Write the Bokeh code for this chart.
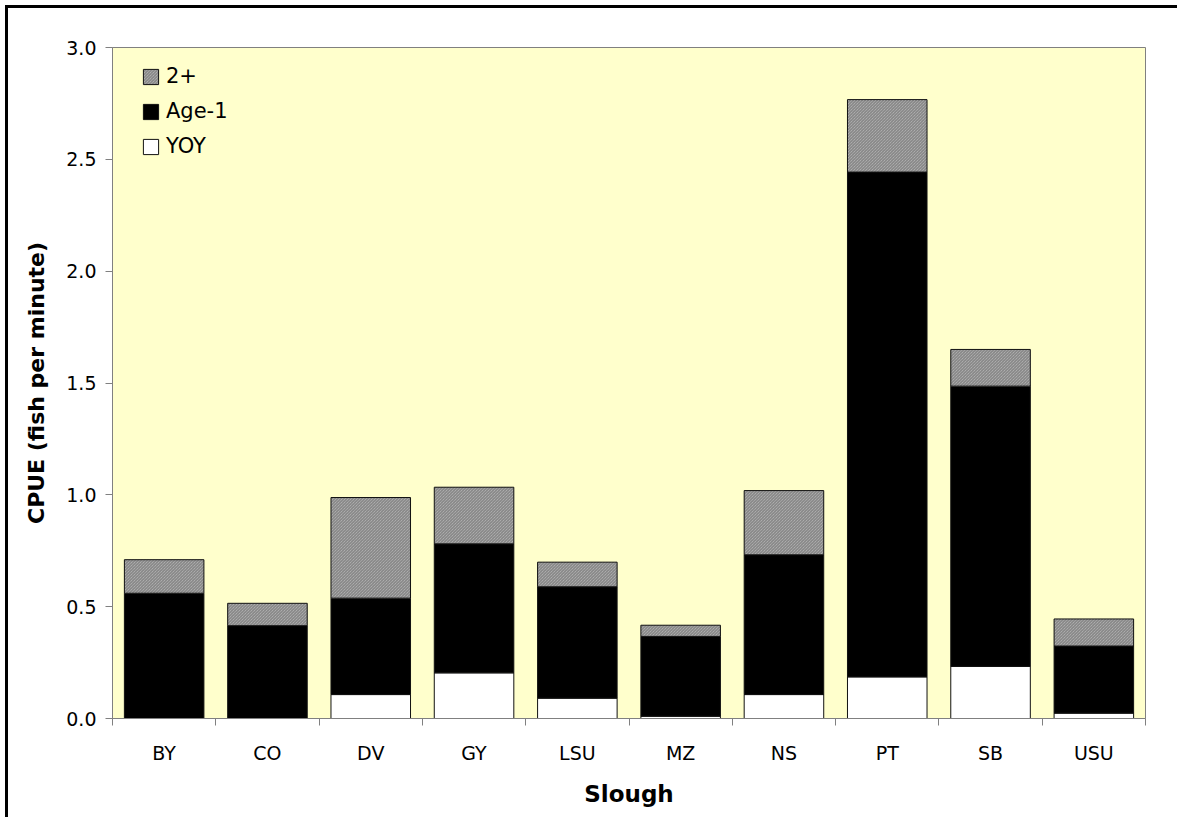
from bokeh.plotting import figure
from bokeh.models import (ColumnDataSource, Range1d, FixedTicker, Legend, LegendItem,
                          CustomJSTickFormatter)
from bokeh.embed import file_html
from bokeh.resources import INLINE

sloughs = ["BY", "CO", "DV", "GY", "LSU", "MZ", "NS", "PT", "SB", "USU"]
yoy = [0.0, 0.0, 0.107, 0.204, 0.091, 0.010, 0.107, 0.186, 0.233, 0.024]
age1 = [0.560, 0.415, 0.431, 0.577, 0.498, 0.357, 0.625, 2.257, 1.253, 0.300]
age2plus = [0.150, 0.100, 0.450, 0.253, 0.110, 0.050, 0.287, 0.324, 0.164, 0.121]
y_ticks = [0.0, 0.5, 1.0, 1.5, 2.0, 2.5, 3.0]
series_labels = ["YOY", "Age-1", "2+"]

FONT = "DejaVu Sans"
xpos = [i + 0.5 for i in range(len(sloughs))]
src = ColumnDataSource(dict(x=xpos, yoy=yoy, age1=age1, age2=age2plus))

p = figure(frame_width=1033, frame_height=671, output_backend="svg", toolbar_location=None,
           x_range=Range1d(0, len(sloughs)), y_range=Range1d(0, 3.0),
           min_border_left=104, min_border_right=32, min_border_top=39, min_border_bottom=99,
           background_fill_color="#FFFFCC", border_fill_color="white",
           outline_line_color="#808080", outline_line_width=1)
p.styles = {"border-left": "3px solid black", "border-top": "3px solid black",
            "margin-left": "5px", "margin-top": "5px"}
p.grid.visible = False

rs = p.vbar_stack(["yoy", "age1", "age2"], x="x", width=0.77, source=src,
                  fill_color=["white", "black", "#bdbdbd"],
                  line_color="#111111", line_width=1)
rs[2].glyph.hatch_pattern = "left_diagonal_line"
rs[2].glyph.hatch_color = "#7a7a7a"
rs[2].glyph.hatch_scale = 3
rs[2].glyph.hatch_weight = 1

# x axis: labels at centres, tick marks at category boundaries
xa = p.xaxis[0]
xa.ticker = FixedTicker(ticks=xpos, minor_ticks=list(range(len(sloughs) + 1)))
xa.major_label_overrides = {xv: s for xv, s in zip(xpos, sloughs)}
xa.major_tick_out = 0
xa.major_tick_in = 0
xa.minor_tick_out = 7
xa.minor_tick_in = 0
xa.minor_tick_line_color = "#808080"
xa.axis_line_color = "#808080"
xa.major_label_standoff = 16
xa.major_label_text_font = FONT
xa.major_label_text_font_size = "19px"
xa.major_label_text_color = "black"
xa.axis_label = "Slough"
xa.axis_label_text_font = FONT
xa.axis_label_text_font_style = "bold"
xa.axis_label_text_font_size = "23px"
xa.axis_label_text_color = "black"
xa.axis_label_standoff = 14

ya = p.yaxis[0]
ya.ticker = FixedTicker(ticks=y_ticks)
ya.formatter = CustomJSTickFormatter(code="return tick.toFixed(1);")
ya.major_tick_out = 7
ya.major_tick_in = 0
ya.minor_tick_out = 0
ya.minor_tick_in = 0
ya.major_tick_line_color = "#808080"
ya.axis_line_color = "#808080"
ya.major_label_standoff = 9
ya.major_label_text_font = FONT
ya.major_label_text_font_size = "19px"
ya.major_label_text_color = "black"
ya.axis_label = "CPUE (fish per minute)"
ya.axis_label_text_font = FONT
ya.axis_label_text_font_style = "bold"
ya.axis_label_text_font_size = "22px"
ya.axis_label_text_color = "black"
ya.axis_label_standoff = 14

legend = Legend(items=[LegendItem(label=series_labels[2], renderers=[rs[2]]),
                       LegendItem(label=series_labels[1], renderers=[rs[1]]),
                       LegendItem(label=series_labels[0], renderers=[rs[0]])],
                location=(29, 560), margin=0, padding=0, spacing=11,
                glyph_width=19, glyph_height=19, label_standoff=6,
                label_text_font=FONT, label_text_font_size="21px",
                label_text_color="black",
                background_fill_alpha=0, border_line_alpha=0)
p.add_layout(legend)

open("out.html", "w").write(file_html(p, INLINE))
